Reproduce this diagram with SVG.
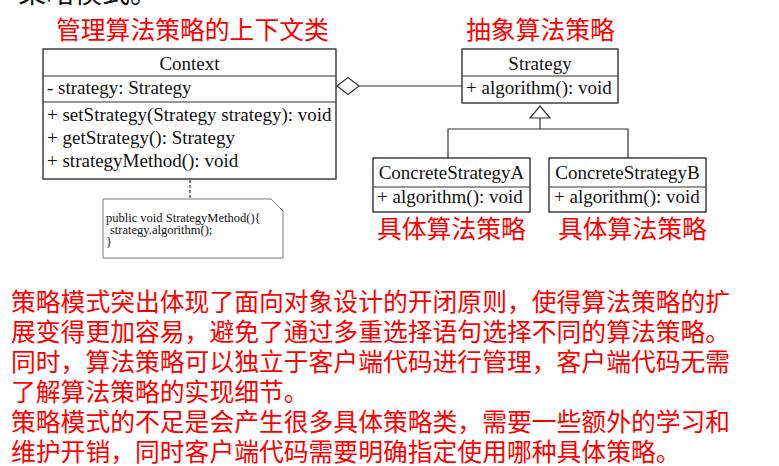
<svg xmlns="http://www.w3.org/2000/svg" width="779" height="466" viewBox="0 0 779 466">
<style>
.box{fill:#fff;stroke:#222;stroke-width:1.3}
.ln{fill:none;stroke:#333;stroke-width:1.2}
.uml{font-family:"Liberation Serif","Times New Roman",serif;font-size:19px;fill:#111}
.c{text-anchor:middle}
.note{font-family:"Liberation Serif","Times New Roman",serif;font-size:12.5px;fill:#111}
.red{font-family:"Noto Sans CJK SC","Noto Sans",sans-serif;font-size:24.8px;fill:#ff0000}
.blk{font-family:"Noto Sans CJK SC","Noto Sans",sans-serif;font-size:28px;fill:#111}
</style>
<rect width="779" height="466" fill="#fff"/>
<text class="blk" x="18" y="3">策略模式。</text>
<g id="connectors">
  <line class="ln" x1="359" y1="86" x2="462" y2="86"/>
  <polygon points="337,86 348,77.5 359,86 348,94.5" fill="#fff" stroke="#333" stroke-width="1.2"/>
  <polygon points="540,106 550,118 530,118" fill="#fff" stroke="#333" stroke-width="1.2"/>
  <polyline class="ln" points="540,118 540,129"/>
  <polyline class="ln" points="448,158 448,129 628,129 628,158"/>
  <line class="ln" x1="190" y1="180" x2="190" y2="199" stroke-dasharray="3,2"/>
</g>
<g id="context">
  <rect class="box" x="43" y="49" width="293" height="130"/>
  <line class="ln" x1="43" y1="76" x2="336" y2="76"/>
  <line class="ln" x1="43" y1="102" x2="336" y2="102"/>
  <text class="uml c" x="189.5" y="70">Context</text>
  <text class="uml" x="47" y="94">- strategy: Strategy</text>
  <text class="uml" x="47" y="121">+ setStrategy(Strategy strategy): void</text>
  <text class="uml" x="47" y="144">+ getStrategy(): Strategy</text>
  <text class="uml" x="47" y="167">+ strategyMethod(): void</text>
</g>
<g id="strategy">
  <rect class="box" x="462" y="49" width="156" height="54"/>
  <line class="ln" x1="462" y1="76" x2="618" y2="76"/>
  <text class="uml c" x="540" y="70">Strategy</text>
  <text class="uml" x="466" y="94">+ algorithm(): void</text>
</g>
<g id="concreteA">
  <rect class="box" x="373" y="158" width="157" height="54"/>
  <line class="ln" x1="373" y1="187" x2="530" y2="187"/>
  <text class="uml c" x="451.5" y="179">ConcreteStrategyA</text>
  <text class="uml" x="377" y="203">+ algorithm(): void</text>
</g>
<g id="concreteB">
  <rect class="box" x="549" y="158" width="157" height="54"/>
  <line class="ln" x1="549" y1="187" x2="706" y2="187"/>
  <text class="uml c" x="627.5" y="179">ConcreteStrategyB</text>
  <text class="uml" x="554" y="203">+ algorithm(): void</text>
</g>
<g id="note">
  <path d="M103,199 L271,199 L283,211 L283,258 L103,258 Z" fill="#fff" stroke="#777" stroke-width="1"/>
  <text class="note" x="106" y="222">public void StrategyMethod(){</text>
  <text class="note" x="110" y="234">strategy.algorithm();</text>
  <text class="note" x="106" y="246">}</text>
</g>
<g id="labels">
  <text class="red" x="56" y="39">管理算法策略的上下文类</text>
  <text class="red" x="466" y="39">抽象算法策略</text>
  <text class="red" x="377" y="238">具体算法策略</text>
  <text class="red" x="558" y="238">具体算法策略</text>
</g>
<g id="paragraph">
  <text class="red" x="11" y="311">策略模式突出体现了面向对象设计的开闭原则，使得算法策略的扩</text>
  <text class="red" x="11" y="341">展变得更加容易，避免了通过多重选择语句选择不同的算法策略。</text>
  <text class="red" x="11" y="371">同时，算法策略可以独立于客户端代码进行管理，客户端代码无需</text>
  <text class="red" x="11" y="401">了解算法策略的实现细节。</text>
  <text class="red" x="11" y="431">策略模式的不足是会产生很多具体策略类，需要一些额外的学习和</text>
  <text class="red" x="11" y="461">维护开销，同时客户端代码需要明确指定使用哪种具体策略。</text>
</g>
</svg>
